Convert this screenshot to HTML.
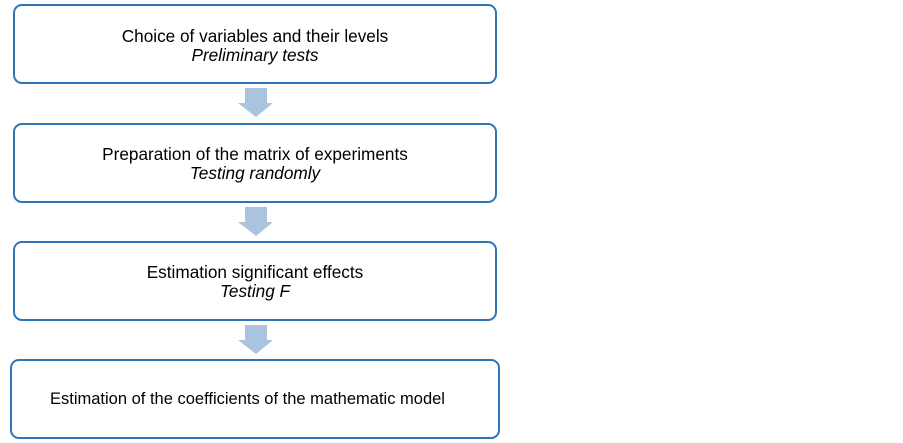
<!DOCTYPE html>
<html><head><style>
body{margin:0;width:903px;height:443px;background:#fff;position:relative;font-family:"Liberation Sans",Arial,sans-serif;font-size:17.2px;color:#000}
.b{position:absolute;box-sizing:border-box;border:2.5px solid #2e75b6;border-radius:9px;background:#fff;text-align:center}
.t{position:absolute;left:0;right:0;line-height:19px}
i{font-style:italic}
</style></head><body>
<div class="b" style="left:13px;top:4px;width:484px;height:80px"><div class="t" style="top:21px">Choice of variables and their levels<br><i>Preliminary tests</i></div></div>
<div class="b" style="left:13px;top:123px;width:484px;height:80px"><div class="t" style="top:20px">Preparation of the matrix of experiments<br><i>Testing randomly</i></div></div>
<div class="b" style="left:13px;top:241px;width:484px;height:80px"><div class="t" style="top:20px">Estimation significant effects<br><i>Testing F</i></div></div>
<div class="b" style="left:10px;top:359px;width:490px;height:80px"><div class="t" style="top:29px;left:-15px;font-size:16.5px">Estimation of the coefficients of the mathematic model</div></div>
<svg width="903" height="443" style="position:absolute;left:0;top:0" fill="#aac3df">
<polygon points="245,88 267,88 267,103 273,103 256,117 238,103 245,103"/>
<polygon points="245,207 267,207 267,222 273,222 256,236 238,222 245,222"/>
<polygon points="245,325 267,325 267,340 273,340 256,354 238,340 245,340"/>
</svg>
</body></html>
